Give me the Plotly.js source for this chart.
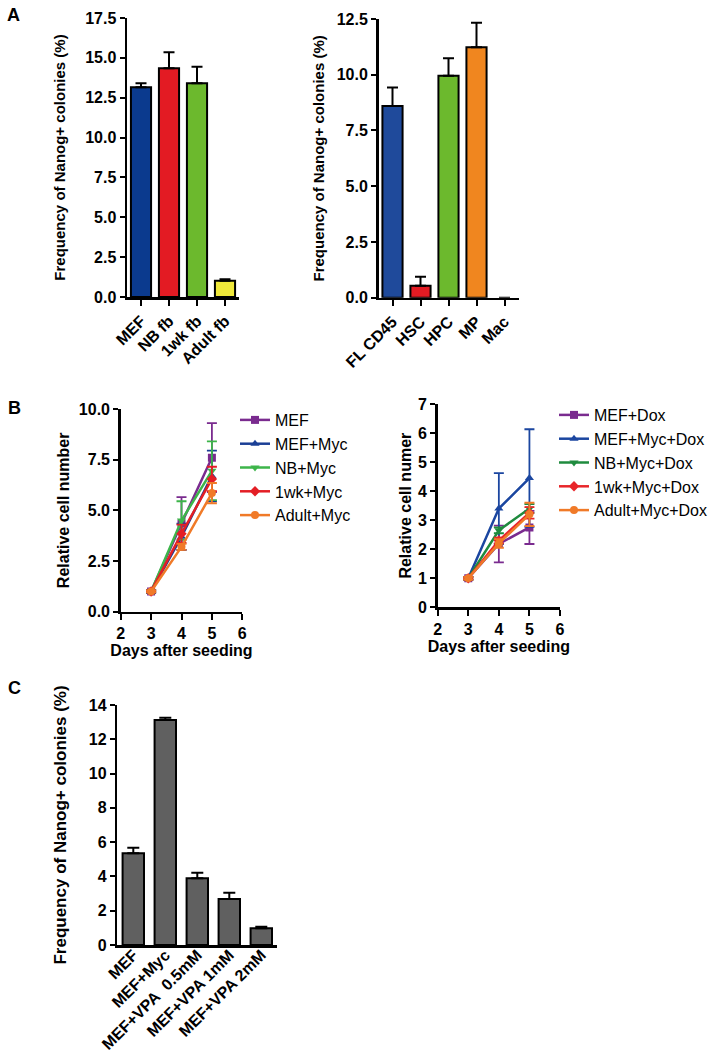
<!DOCTYPE html>
<html>
<head>
<meta charset="utf-8">
<script src="https://cdn.plot.ly/plotly-3.0.1.min.js"></script>
<style>html,body{margin:0;padding:0;background:#fff;}#plot{width:715px;height:1055px;}</style>
</head>
<body>
<div id="plot"></div>
<script>
// ---- Panel A (left) ----
const aLeftCats = ["MEF", "NB fb", "1wk fb", "Adult fb"];
const aLeftVals = [13.15, 14.35, 13.4, 1.02];
const aLeftErr = [0.25, 1.0, 1.05, 0.1];
const aLeftColors = ["#0b3a8e", "#e31b23", "#6cb92d", "#efe83a"];

// ---- Panel A (right) ----
const aRightCats = ["FL CD45", "HSC", "HPC", "MP", "Mac"];
const aRightVals = [8.6, 0.54, 9.96, 11.23, 0];
const aRightErr = [0.83, 0.4, 0.78, 1.1, 0];
const aRightColors = ["#1f4a9b", "#e31b23", "#6cb92d", "#f0861f", "rgba(0,0,0,0)"];

// ---- Panel B ----
const days = [3, 4, 5];
const bLeftNames = ["MEF", "MEF+Myc", "NB+Myc", "1wk+Myc", "Adult+Myc"];
const bLeftVals = [
  [1, 4.35, 7.6],
  [1, 3.7, 6.7],
  [1, 4.5, 6.95],
  [1, 3.85, 6.55],
  [1, 3.2, 5.85]
];
const bLeftErr = [
  [0.05, 1.3, 1.7],
  [0.08, 0.65, 1.25],
  [0.05, 0.95, 1.45],
  [0.05, 0.45, 0.6],
  [0.05, 0.15, 0.5]
];
const bLeftColors = ["#7a2b8f", "#1b3f95", "#3db54a", "#e31e25", "#f07a28"];

const bRightNames = ["MEF+Dox", "MEF+Myc+Dox", "NB+Myc+Dox", "1wk+Myc+Dox", "Adult+Myc+Dox"];
const bRightVals = [
  [1, 2.18, 2.75],
  [1, 3.4, 4.45],
  [1, 2.65, 3.4],
  [1, 2.3, 3.25],
  [1, 2.2, 3.2]
];
const bRightErr = [
  [0.05, 0.63, 0.57],
  [0.05, 1.22, 1.68],
  [0.05, 0.1, 0.15],
  [0.05, 0.1, 0.2],
  [0.05, 0.15, 0.4]
];
const bRightColors = ["#7a2b8f", "#1b46a0", "#1f8b3e", "#e8262a", "#f07a28"];
const symbols = ["square", "triangle-up", "triangle-down", "diamond", "circle"];

// ---- Panel C ----
const cCats = ["MEF", "MEF+Myc", "MEF+VPA\u00a0\u00a00.5mM", "MEF+VPA 1mM", "MEF+VPA 2mM"];
const cVals = [5.35, 13.13, 3.89, 2.68, 0.97];
const cErr = [0.33, 0.13, 0.33, 0.37, 0.1];

// ---- geometry helpers (pixel -> paper) ----
const W = 715, H = 1055;
const fx = p => p / W;
const fy = p => 1 - p / H;

const FONT = "Liberation Sans, Arial, Helvetica, sans-serif";
const tickFont = {family: FONT, size: 16, color: "#000", weight: "bold"};

function upperErr(arr, w) {
  return {type: "data", array: arr, arrayminus: arr.map(() => 0), symmetric: false,
          color: "#000", thickness: 2, width: w, visible: true};
}

const traces = [];
traces.push({type: "bar", x: aLeftCats, y: aLeftVals, xaxis: "x", yaxis: "y", width: 0.72,
  marker: {color: aLeftColors, line: {color: "#000", width: 2}},
  error_y: upperErr(aLeftErr, 5.5), showlegend: false});
traces.push({type: "bar", x: aRightCats, y: aRightVals, xaxis: "x2", yaxis: "y2", width: 0.72,
  marker: {color: aRightColors, line: {color: "#000", width: [2, 2, 2, 2, 0]}},
  error_y: upperErr(aRightErr, 5.5), showlegend: false});

bLeftNames.forEach((n, i) => {
  traces.push({type: "scatter", mode: "lines+markers", name: n, x: days, y: bLeftVals[i],
    xaxis: "x3", yaxis: "y3", legend: "legend",
    line: {color: bLeftColors[i], width: 2.5},
    marker: {symbol: symbols[i], size: 8, color: bLeftColors[i]},
    error_y: {type: "data", array: bLeftErr[i], color: bLeftColors[i], thickness: 1.8, width: 5}});
});
bRightNames.forEach((n, i) => {
  traces.push({type: "scatter", mode: "lines+markers", name: n, x: days, y: bRightVals[i],
    xaxis: "x4", yaxis: "y4", legend: "legend2",
    line: {color: bRightColors[i], width: 2.5},
    marker: {symbol: symbols[i], size: 8, color: bRightColors[i]},
    error_y: {type: "data", array: bRightErr[i], color: bRightColors[i], thickness: 1.8, width: 5}});
});

traces.push({type: "bar", x: cCats, y: cVals, xaxis: "x5", yaxis: "y5", width: 0.67,
  marker: {color: "#606060", line: {color: "#000", width: 2}},
  error_y: upperErr(cErr, 6), showlegend: false});

function xax(d0, d1, anchor, range, extra) {
  return Object.assign({domain: [fx(d0), fx(d1)], anchor: anchor, range: range,
    showline: true, linecolor: "#000", linewidth: 2.5, ticks: "outside", ticklen: 6,
    tickwidth: 2, tickcolor: "#000", showgrid: false, zeroline: false,
    tickfont: tickFont, fixedrange: true}, extra || {});
}
function yax(p0, p1, anchor, range, dtick, fmt, title, tsize, standoff) {
  return {domain: [fy(p1), fy(p0)], anchor: anchor, range: range, dtick: dtick, tick0: 0,
    tickformat: fmt, showline: true, linecolor: "#000", linewidth: 2.5, ticks: "outside",
    ticklen: 5, tickwidth: 2, tickcolor: "#000", showgrid: false, zeroline: false,
    tickfont: tickFont, fixedrange: true,
    title: {text: title, font: {family: FONT, size: tsize, color: "#000", weight: "bold"}, standoff: standoff}};
}
const xTitleFont = {family: FONT, size: 16, color: "#000", weight: "bold"};

const layout = {
  width: W, height: H, margin: {l: 0, r: 0, t: 0, b: 0, autoexpand: false},
  paper_bgcolor: "#fff", plot_bgcolor: "rgba(0,0,0,0)",
  font: {family: FONT, color: "#000"},
  xaxis: xax(127, 239, "y", [-0.5, 3.5], {type: "category", tickangle: -45}),
  yaxis: yax(18, 297, "x", [0, 17.5], 2.5, ".1f", "Frequency of Nanog+ colonies (%)", 15, 16),
  xaxis2: xax(378.5, 518.5, "y2", [-0.5, 4.5], {type: "category", tickangle: -45}),
  yaxis2: yax(19, 297.7, "x2", [0, 12.5], 2.5, ".1f", "Frequency of Nanog+ colonies (%)", 15, 9),
  xaxis3: xax(120.7, 242.3, "y3", [2, 6], {dtick: 1, title: {text: "Days after seeding", font: xTitleFont, standoff: 4}}),
  yaxis3: yax(409, 611.7, "x3", [0, 10], 2.5, ".1f", "Relative cell number", 16, 6),
  xaxis4: xax(437.7, 560, "y4", [2, 6], {dtick: 1, title: {text: "Days after seeding", font: xTitleFont, standoff: 4}}),
  yaxis4: yax(404, 607.3, "x4", [0, 7], 1, "d", "Relative cell numer", 16, 3),
  xaxis5: xax(117.3, 277.3, "y5", [-0.5, 4.5], {type: "category", tickangle: -45, ticks: "", ticklabelstandoff: -8}),
  yaxis5: yax(705, 945, "x5", [0, 14], 2, "d", "Frequency of Nanog+ colonies (%)", 17, 18),
  legend: {x: fx(235), y: fy(403), xanchor: "left", yanchor: "top", bgcolor: "rgba(0,0,0,0)",
    font: {family: FONT, size: 16, color: "#000"}, itemwidth: 30, tracegroupgap: 0},
  legend2: {x: fx(554), y: fy(398), xanchor: "left", yanchor: "top", bgcolor: "rgba(0,0,0,0)",
    font: {family: FONT, size: 16, color: "#000"}, itemwidth: 30, tracegroupgap: 0},
  annotations: [
    {text: "A", x: fx(5), y: fy(15), xref: "paper", yref: "paper", xanchor: "left", yanchor: "middle", showarrow: false, font: {family: FONT, size: 18, color: "#000", weight: "bold"}},
    {text: "B", x: fx(6), y: fy(408), xref: "paper", yref: "paper", xanchor: "left", yanchor: "middle", showarrow: false, font: {family: FONT, size: 18, color: "#000", weight: "bold"}},
    {text: "C", x: fx(6), y: fy(688), xref: "paper", yref: "paper", xanchor: "left", yanchor: "middle", showarrow: false, font: {family: FONT, size: 18, color: "#000", weight: "bold"}}
  ]
};

Plotly.newPlot("plot", traces, layout, {displayModeBar: false, staticPlot: true});
</script>
</body>
</html>
